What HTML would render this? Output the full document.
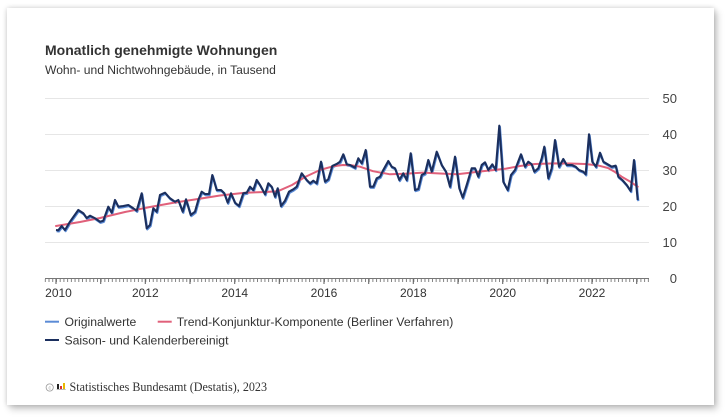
<!DOCTYPE html>
<html><head><meta charset="utf-8"><style>
html,body{margin:0;padding:0;background:#fff;}
body{width:728px;height:420px;position:relative;overflow:hidden;font-family:"Liberation Sans",Arial,sans-serif;}
.card{position:absolute;left:7px;top:8px;width:707px;height:397px;background:#fff;box-shadow:0 0 5px rgba(0,0,0,.18),3px 4px 7px rgba(0,0,0,.22);}
svg{position:absolute;left:0;top:0;}
</style></head><body>
<div class="card"></div>
<svg width="728" height="420" viewBox="0 0 728 420" xmlns="http://www.w3.org/2000/svg">
<defs>
<pattern id="mt" patternUnits="userSpaceOnUse" x="44.84" y="279" width="3.7225" height="4">
<rect x="0" y="0" width="0.9" height="3" fill="#777"/>
</pattern>
</defs>
<text x="45" y="55" font-family="Liberation Sans, Arial, sans-serif" font-size="14" font-weight="bold" fill="#333">Monatlich genehmigte Wohnungen</text>
<text x="45" y="74" font-family="Liberation Sans, Arial, sans-serif" font-size="12.1" fill="#333">Wohn- und Nichtwohngebäude, in Tausend</text>
<g stroke="#e6e6e6" stroke-width="1">
<line x1="45" y1="98.5" x2="649" y2="98.5"/>
<line x1="45" y1="134.5" x2="649" y2="134.5"/>
<line x1="45" y1="170.5" x2="649" y2="170.5"/>
<line x1="45" y1="206.5" x2="649" y2="206.5"/>
<line x1="45" y1="242.5" x2="649" y2="242.5"/>
</g>
<g font-family="Liberation Sans, Arial, sans-serif" font-size="13" fill="#444" text-anchor="end">
<text x="677" y="103">50</text>
<text x="677" y="139">40</text>
<text x="677" y="175">30</text>
<text x="677" y="211">20</text>
<text x="677" y="247">10</text>
<text x="677" y="283">0</text>
</g>
<line x1="45" y1="278.5" x2="649" y2="278.5" stroke="#777" stroke-width="1"/>
<rect x="44.5" y="279" width="605" height="3" fill="url(#mt)"/>
<g stroke="#666" stroke-width="1.1">
<line x1="56" y1="279" x2="56" y2="284"/>
<line x1="100.7" y1="279" x2="100.7" y2="284"/>
<line x1="145.3" y1="279" x2="145.3" y2="284"/>
<line x1="190" y1="279" x2="190" y2="284"/>
<line x1="234.7" y1="279" x2="234.7" y2="284"/>
<line x1="279.3" y1="279" x2="279.3" y2="284"/>
<line x1="324" y1="279" x2="324" y2="284"/>
<line x1="368.7" y1="279" x2="368.7" y2="284"/>
<line x1="413.3" y1="279" x2="413.3" y2="284"/>
<line x1="458" y1="279" x2="458" y2="284"/>
<line x1="502.7" y1="279" x2="502.7" y2="284"/>
<line x1="547.3" y1="279" x2="547.3" y2="284"/>
<line x1="592" y1="279" x2="592" y2="284"/>
<line x1="636.7" y1="279" x2="636.7" y2="284"/>
</g>
<g font-family="Liberation Sans, Arial, sans-serif" font-size="12" fill="#333" text-anchor="middle">
<text x="58.5" y="297">2010</text>
<text x="145.3" y="297">2012</text>
<text x="234.7" y="297">2014</text>
<text x="324" y="297">2016</text>
<text x="413.3" y="297">2018</text>
<text x="502.7" y="297">2020</text>
<text x="592" y="297">2022</text>
</g>
<polyline fill="none" stroke="#5b8bd6" stroke-width="2.2" stroke-linejoin="round" transform="translate(0.6,1.1)" points="56,230 58.3,230.3 61.7,226 65,230 70,221.7 78.3,210 83.3,213.3 86.7,218 90,215.7 95,218.3 100,221.7 103.3,220.7 108.3,206.7 111.7,212.7 115,200 118.3,206.7 123.3,206 128.3,205 133.3,208.3 136.7,210.7 141.7,193.3 146.7,228.3 150,225 153.3,208.3 156.7,211.7 160,195 165,192.7 170,198.3 175,201.7 178.3,200 182.7,211.7 186,199.3 190.7,215 195,211.7 198.3,200 201.7,191.7 205,194 209,194 212.3,175 216.7,190 221,190 224.3,193.3 227.7,202.7 231,193.3 235,202.7 239,206 243.3,193.3 246.7,192.7 250,186.7 253.3,190 256.7,180 260,185 265,194.3 268.3,183.3 271.7,186.7 275,196.7 277.7,188.3 281,206 285,200.7 289,191.7 293.3,189.3 296.7,186.7 301.7,173.3 306.7,180 310,183.3 313.3,180.7 316.7,183.3 321,161.7 325,181.7 328.3,179.3 332.3,166 336.7,164 340,161.7 343.3,154.3 346.7,164.3 350,165 355,167.7 358.3,158.3 361.7,163.3 365.7,150 370,186.7 373.3,186.7 376.7,178.3 380,176.7 383.3,170 388.3,161 391.7,166.7 395,168.3 399.3,180 403.3,173.3 406.7,180 410.7,153.3 415,190 418.3,189 421.7,175 425,173.3 428.3,160 431.7,171.7 436.7,151.7 441.7,165 446,171.7 450,186.7 455,156.7 459.3,188.3 462.7,197.7 466.7,185 471.7,168.3 475,168.3 478.3,176.7 481.7,165 485,162.3 488.3,170 492.3,164.3 495.7,170 499.3,125.7 503.3,181.7 507.7,190 511,175 515,170 521,154.3 525,166.7 528.3,161.7 531.7,164.3 534.3,171.7 538.3,168.3 541.7,158.3 544.3,146.7 548.3,178.3 551.7,168.3 555,140 559,166.7 563.3,159 566.7,165 571.7,165 575.7,166.7 579,170 583.3,171.7 585.7,174.3 589,134.3 592.3,161.7 596,166.7 600,152.7 603.3,161.7 607.7,164.3 611.7,166.7 615.7,165.7 618.3,176.7 622.3,180 626.7,185 630.7,191 634,160 637.7,200"/>
<polyline fill="none" stroke="#e0607a" stroke-width="2" stroke-linejoin="round" stroke-linecap="round" points="56,226 80,222 100,218 125,212 150,207 175,202.5 198,199 220,195.5 245,192.7 265,192 278,191.2 292,185 305,177 320,170 333,166.3 343,165 352,165.3 360,166.7 373,171.2 390,174.3 405,173.7 423,172.6 440,173.5 457,174.2 470,172.8 480,171.5 492,170.2 505,168.8 520,166 535,164 555,163.4 570,163.5 585,164 597,165.2 608,168 615,172 621.7,176.7 630,181.5 637.7,186.7"/>
<polyline fill="none" stroke="#1b2f5e" stroke-width="2.1" stroke-linejoin="round" points="56,230 58.3,230.3 61.7,226 65,230 70,221.7 78.3,210 83.3,213.3 86.7,218 90,215.7 95,218.3 100,221.7 103.3,220.7 108.3,206.7 111.7,212.7 115,200 118.3,206.7 123.3,206 128.3,205 133.3,208.3 136.7,210.7 141.7,193.3 146.7,228.3 150,225 153.3,208.3 156.7,211.7 160,195 165,192.7 170,198.3 175,201.7 178.3,200 182.7,211.7 186,199.3 190.7,215 195,211.7 198.3,200 201.7,191.7 205,194 209,194 212.3,175 216.7,190 221,190 224.3,193.3 227.7,202.7 231,193.3 235,202.7 239,206 243.3,193.3 246.7,192.7 250,186.7 253.3,190 256.7,180 260,185 265,194.3 268.3,183.3 271.7,186.7 275,196.7 277.7,188.3 281,206 285,200.7 289,191.7 293.3,189.3 296.7,186.7 301.7,173.3 306.7,180 310,183.3 313.3,180.7 316.7,183.3 321,161.7 325,181.7 328.3,179.3 332.3,166 336.7,164 340,161.7 343.3,154.3 346.7,164.3 350,165 355,167.7 358.3,158.3 361.7,163.3 365.7,150 370,186.7 373.3,186.7 376.7,178.3 380,176.7 383.3,170 388.3,161 391.7,166.7 395,168.3 399.3,180 403.3,173.3 406.7,180 410.7,153.3 415,190 418.3,189 421.7,175 425,173.3 428.3,160 431.7,171.7 436.7,151.7 441.7,165 446,171.7 450,186.7 455,156.7 459.3,188.3 462.7,197.7 466.7,185 471.7,168.3 475,168.3 478.3,176.7 481.7,165 485,162.3 488.3,170 492.3,164.3 495.7,170 499.3,125.7 503.3,181.7 507.7,190 511,175 515,170 521,154.3 525,166.7 528.3,161.7 531.7,164.3 534.3,171.7 538.3,168.3 541.7,158.3 544.3,146.7 548.3,178.3 551.7,168.3 555,140 559,166.7 563.3,159 566.7,165 571.7,165 575.7,166.7 579,170 583.3,171.7 585.7,174.3 589,134.3 592.3,161.7 596,166.7 600,152.7 603.3,161.7 607.7,164.3 611.7,166.7 615.7,165.7 618.3,176.7 622.3,180 626.7,185 630.7,191 634,160 637.7,200"/>
<g stroke-width="2">
<line x1="45" y1="321.7" x2="59" y2="321.7" stroke="#5b8bd6"/>
<line x1="157.7" y1="321.7" x2="171.7" y2="321.7" stroke="#e0607a"/>
<line x1="45" y1="340" x2="59" y2="340" stroke="#1b2f5e"/>
</g>
<g font-family="Liberation Sans, Arial, sans-serif" font-size="12.2" fill="#333">
<text x="64.5" y="326">Originalwerte</text>
<text x="176.7" y="326">Trend-Konjunktur-Komponente (Berliner Verfahren)</text>
<text x="64.5" y="344.5">Saison- und Kalenderbereinigt</text>
</g>
<circle cx="49.7" cy="387.5" r="3.6" fill="none" stroke="#999" stroke-width="0.8"/>
<text x="49.7" y="389.6" font-family="Liberation Sans, Arial, sans-serif" font-size="5" fill="#999" text-anchor="middle">c</text>
<rect x="57" y="384" width="2" height="5" fill="#222"/>
<rect x="60" y="386" width="2" height="3" fill="#d33"/>
<rect x="63" y="383" width="2" height="6" fill="#e8b800"/>
<rect x="56.7" y="389" width="9" height="0.8" fill="#aaa"/>
<text x="69.5" y="391" font-family="Liberation Serif, Times New Roman, serif" font-size="12.1" fill="#333">Statistisches Bundesamt (Destatis), 2023</text>
</svg>
</body></html>
